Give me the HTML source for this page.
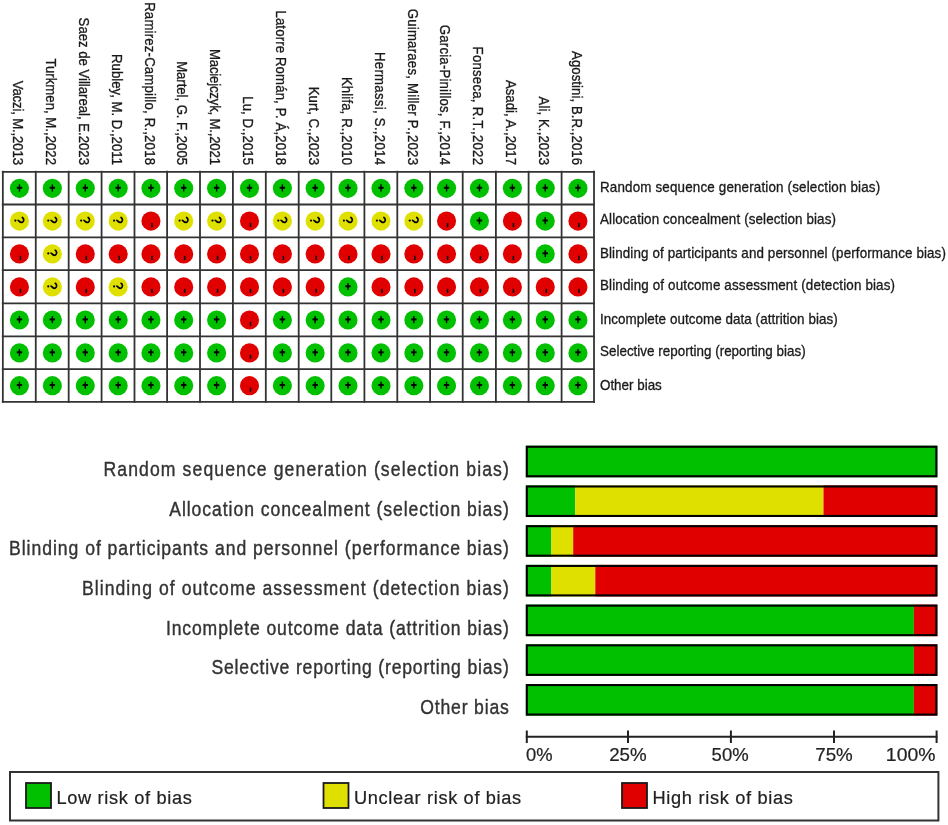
<!DOCTYPE html>
<html><head><meta charset="utf-8"><style>
html,body{margin:0;padding:0;background:#fff;}
body{width:948px;height:825px;overflow:hidden;}
svg{display:block;font-family:"Liberation Sans",sans-serif;filter:blur(0.5px);}
.hd{font-size:13.2px;fill:#1a1a1a;stroke:#1a1a1a;stroke-width:0.3px;}
.rl{font-size:13.4px;fill:#1a1a1a;stroke:#1a1a1a;stroke-width:0.3px;}
.bl{font-size:17.6px;fill:#333;stroke:#333;stroke-width:0.35px;}
.at{font-size:18.0px;fill:#222;stroke:#222;stroke-width:0.2px;}
.lt{font-size:18.2px;fill:#222;stroke:#222;stroke-width:0.22px;}
.gl{stroke:#333;stroke-width:1.8;}
.plus{stroke:#000;stroke-width:1.9;fill:none;}
.plusv{stroke:#000;stroke-width:1.35;fill:none;}
.minus{stroke:#111;stroke-width:1.6;fill:none;}
.qp{stroke:#000;stroke-width:1.7;fill:none;stroke-linecap:round;}
.bb{stroke:#000;stroke-width:2.1;}
.ax{stroke:#222;stroke-width:2;}
.lg{stroke:#333;stroke-width:2;}
.ls{stroke:#1a1a1a;stroke-width:1.8;}
</style></head><body>
<svg width="948" height="825" viewBox="0 0 948 825">
<text transform="translate(13.11 165) rotate(90) scale(1 1.1)" text-anchor="end" class="hd" textLength="84.28" lengthAdjust="spacing">Vaczi, M.,2013</text>
<text transform="translate(46.02 165) rotate(90) scale(1 1.1)" text-anchor="end" class="hd" textLength="106.57" lengthAdjust="spacing">Turkmen, M.,2022</text>
<text transform="translate(78.92 165) rotate(90) scale(1 1.1)" text-anchor="end" class="hd" textLength="147.40" lengthAdjust="spacing">Saez de Villareal, E.2023</text>
<text transform="translate(111.83 165) rotate(90) scale(1 1.1)" text-anchor="end" class="hd" textLength="110.97" lengthAdjust="spacing">Rubley, M. D.,2011</text>
<text transform="translate(144.60 165) rotate(90) scale(1 1.1)" text-anchor="end" class="hd" textLength="162.87" lengthAdjust="spacing">Ramirez-Campillo, R.,2018</text>
<text transform="translate(177.35 165) rotate(90) scale(1 1.1)" text-anchor="end" class="hd" textLength="103.86" lengthAdjust="spacing">Martel, G. F.,2005</text>
<text transform="translate(210.25 165) rotate(90) scale(1 1.1)" text-anchor="end" class="hd" textLength="116.00" lengthAdjust="spacing">Maciejczyk, M.,2021</text>
<text transform="translate(243.15 165) rotate(90) scale(1 1.1)" text-anchor="end" class="hd" textLength="68.72" lengthAdjust="spacing">Lu, D.,2015</text>
<text transform="translate(276.05 165) rotate(90) scale(1 1.1)" text-anchor="end" class="hd" textLength="154.57" lengthAdjust="spacing">Latorre Román, P. Á,2018</text>
<text transform="translate(308.80 165) rotate(90) scale(1 1.1)" text-anchor="end" class="hd" textLength="78.24" lengthAdjust="spacing">Kurt, C.,2023</text>
<text transform="translate(341.65 165) rotate(90) scale(1 1.1)" text-anchor="end" class="hd" textLength="88.04" lengthAdjust="spacing">Khlifa, R.,2010</text>
<text transform="translate(374.65 165) rotate(90) scale(1 1.1)" text-anchor="end" class="hd" textLength="113.02" lengthAdjust="spacing">Hermassi, S.,2014</text>
<text transform="translate(407.50 165) rotate(90) scale(1 1.1)" text-anchor="end" class="hd" textLength="156.32" lengthAdjust="spacing">Guimaraes, Miller P.,2023</text>
<text transform="translate(440.20 165) rotate(90) scale(1 1.1)" text-anchor="end" class="hd" textLength="140.15" lengthAdjust="spacing">Garcia-Pinillos, F.,2014</text>
<text transform="translate(473.10 165) rotate(90) scale(1 1.1)" text-anchor="end" class="hd" textLength="118.41" lengthAdjust="spacing">Fonseca, R.T.,2022</text>
<text transform="translate(506.05 165) rotate(90) scale(1 1.1)" text-anchor="end" class="hd" textLength="85.08" lengthAdjust="spacing">Asadi, A.,2017</text>
<text transform="translate(538.90 165) rotate(90) scale(1 1.1)" text-anchor="end" class="hd" textLength="68.48" lengthAdjust="spacing">Ali, K.,2023</text>
<text transform="translate(571.60 165) rotate(90) scale(1 1.1)" text-anchor="end" class="hd" textLength="113.94" lengthAdjust="spacing">Agostini, B.R.,2016</text>
<line x1="2.85" y1="170.80" x2="2.85" y2="402.80" class="gl"/>
<line x1="35.76" y1="170.80" x2="35.76" y2="402.80" class="gl"/>
<line x1="68.67" y1="170.80" x2="68.67" y2="402.80" class="gl"/>
<line x1="101.58" y1="170.80" x2="101.58" y2="402.80" class="gl"/>
<line x1="134.49" y1="170.80" x2="134.49" y2="402.80" class="gl"/>
<line x1="167.10" y1="170.80" x2="167.10" y2="402.80" class="gl"/>
<line x1="200.00" y1="170.80" x2="200.00" y2="402.80" class="gl"/>
<line x1="232.90" y1="170.80" x2="232.90" y2="402.80" class="gl"/>
<line x1="265.80" y1="170.80" x2="265.80" y2="402.80" class="gl"/>
<line x1="298.70" y1="170.80" x2="298.70" y2="402.80" class="gl"/>
<line x1="331.30" y1="170.80" x2="331.30" y2="402.80" class="gl"/>
<line x1="364.40" y1="170.80" x2="364.40" y2="402.80" class="gl"/>
<line x1="397.30" y1="170.80" x2="397.30" y2="402.80" class="gl"/>
<line x1="430.10" y1="170.80" x2="430.10" y2="402.80" class="gl"/>
<line x1="462.70" y1="170.80" x2="462.70" y2="402.80" class="gl"/>
<line x1="495.90" y1="170.80" x2="495.90" y2="402.80" class="gl"/>
<line x1="528.60" y1="170.80" x2="528.60" y2="402.80" class="gl"/>
<line x1="561.60" y1="170.80" x2="561.60" y2="402.80" class="gl"/>
<line x1="594.00" y1="170.80" x2="594.00" y2="402.80" class="gl"/>
<line x1="1.85" y1="171.80" x2="595.00" y2="171.80" class="gl"/>
<line x1="1.85" y1="204.50" x2="595.00" y2="204.50" class="gl"/>
<line x1="1.85" y1="237.30" x2="595.00" y2="237.30" class="gl"/>
<line x1="1.85" y1="270.10" x2="595.00" y2="270.10" class="gl"/>
<line x1="1.85" y1="303.30" x2="595.00" y2="303.30" class="gl"/>
<line x1="1.85" y1="336.30" x2="595.00" y2="336.30" class="gl"/>
<line x1="1.85" y1="369.10" x2="595.00" y2="369.10" class="gl"/>
<line x1="1.85" y1="401.80" x2="595.00" y2="401.80" class="gl"/>
<circle cx="19.45" cy="188.35" r="9.55" fill="#00C000"/>
<path d="M16.75 187.75h5.4" class="plus"/><path d="M19.45 184.35v7.2" class="plusv"/><path d="M17.75 187.75L19.45 185.95L21.15 187.75L19.45 189.55Z" fill="#000"/>
<circle cx="52.37" cy="188.35" r="9.55" fill="#00C000"/>
<path d="M49.66 187.75h5.4" class="plus"/><path d="M52.37 184.35v7.2" class="plusv"/><path d="M50.66 187.75L52.37 185.95L54.07 187.75L52.37 189.55Z" fill="#000"/>
<circle cx="85.28" cy="188.35" r="9.55" fill="#00C000"/>
<path d="M82.58 187.75h5.4" class="plus"/><path d="M85.28 184.35v7.2" class="plusv"/><path d="M83.58 187.75L85.28 185.95L86.98 187.75L85.28 189.55Z" fill="#000"/>
<circle cx="118.19" cy="188.35" r="9.55" fill="#00C000"/>
<path d="M115.48 187.75h5.4" class="plus"/><path d="M118.19 184.35v7.2" class="plusv"/><path d="M116.48 187.75L118.19 185.95L119.89 187.75L118.19 189.55Z" fill="#000"/>
<circle cx="150.95" cy="188.35" r="9.55" fill="#00C000"/>
<path d="M148.25 187.75h5.4" class="plus"/><path d="M150.95 184.35v7.2" class="plusv"/><path d="M149.25 187.75L150.95 185.95L152.65 187.75L150.95 189.55Z" fill="#000"/>
<circle cx="183.70" cy="188.35" r="9.55" fill="#00C000"/>
<path d="M181.00 187.75h5.4" class="plus"/><path d="M183.70 184.35v7.2" class="plusv"/><path d="M182.00 187.75L183.70 185.95L185.40 187.75L183.70 189.55Z" fill="#000"/>
<circle cx="216.60" cy="188.35" r="9.55" fill="#00C000"/>
<path d="M213.90 187.75h5.4" class="plus"/><path d="M216.60 184.35v7.2" class="plusv"/><path d="M214.90 187.75L216.60 185.95L218.30 187.75L216.60 189.55Z" fill="#000"/>
<circle cx="249.50" cy="188.35" r="9.55" fill="#00C000"/>
<path d="M246.80 187.75h5.4" class="plus"/><path d="M249.50 184.35v7.2" class="plusv"/><path d="M247.80 187.75L249.50 185.95L251.20 187.75L249.50 189.55Z" fill="#000"/>
<circle cx="282.40" cy="188.35" r="9.55" fill="#00C000"/>
<path d="M279.70 187.75h5.4" class="plus"/><path d="M282.40 184.35v7.2" class="plusv"/><path d="M280.70 187.75L282.40 185.95L284.10 187.75L282.40 189.55Z" fill="#000"/>
<circle cx="315.15" cy="188.35" r="9.55" fill="#00C000"/>
<path d="M312.45 187.75h5.4" class="plus"/><path d="M315.15 184.35v7.2" class="plusv"/><path d="M313.45 187.75L315.15 185.95L316.85 187.75L315.15 189.55Z" fill="#000"/>
<circle cx="348.00" cy="188.35" r="9.55" fill="#00C000"/>
<path d="M345.30 187.75h5.4" class="plus"/><path d="M348.00 184.35v7.2" class="plusv"/><path d="M346.30 187.75L348.00 185.95L349.70 187.75L348.00 189.55Z" fill="#000"/>
<circle cx="381.00" cy="188.35" r="9.55" fill="#00C000"/>
<path d="M378.30 187.75h5.4" class="plus"/><path d="M381.00 184.35v7.2" class="plusv"/><path d="M379.30 187.75L381.00 185.95L382.70 187.75L381.00 189.55Z" fill="#000"/>
<circle cx="413.85" cy="188.35" r="9.55" fill="#00C000"/>
<path d="M411.15 187.75h5.4" class="plus"/><path d="M413.85 184.35v7.2" class="plusv"/><path d="M412.15 187.75L413.85 185.95L415.55 187.75L413.85 189.55Z" fill="#000"/>
<circle cx="446.55" cy="188.35" r="9.55" fill="#00C000"/>
<path d="M443.85 187.75h5.4" class="plus"/><path d="M446.55 184.35v7.2" class="plusv"/><path d="M444.85 187.75L446.55 185.95L448.25 187.75L446.55 189.55Z" fill="#000"/>
<circle cx="479.45" cy="188.35" r="9.55" fill="#00C000"/>
<path d="M476.75 187.75h5.4" class="plus"/><path d="M479.45 184.35v7.2" class="plusv"/><path d="M477.75 187.75L479.45 185.95L481.15 187.75L479.45 189.55Z" fill="#000"/>
<circle cx="512.40" cy="188.35" r="9.55" fill="#00C000"/>
<path d="M509.70 187.75h5.4" class="plus"/><path d="M512.40 184.35v7.2" class="plusv"/><path d="M510.70 187.75L512.40 185.95L514.10 187.75L512.40 189.55Z" fill="#000"/>
<circle cx="545.25" cy="188.35" r="9.55" fill="#00C000"/>
<path d="M542.55 187.75h5.4" class="plus"/><path d="M545.25 184.35v7.2" class="plusv"/><path d="M543.55 187.75L545.25 185.95L546.95 187.75L545.25 189.55Z" fill="#000"/>
<circle cx="577.95" cy="188.35" r="9.55" fill="#00C000"/>
<path d="M575.25 187.75h5.4" class="plus"/><path d="M577.95 184.35v7.2" class="plusv"/><path d="M576.25 187.75L577.95 185.95L579.65 187.75L577.95 189.55Z" fill="#000"/>
<circle cx="19.45" cy="221.10" r="9.55" fill="#E0E000"/>
<g transform="translate(19.45 221.10)"><path d="M2.9 -3.6C4.6 -2.6 4.8 0.1 3.0 1.1C1.7 1.8 0.5 1.0 -0.3 0.0L-1.3 -0.8" class="qp"/><circle cx="-4.1" cy="-0.5" r="1.1" fill="#000"/></g>
<circle cx="52.37" cy="221.10" r="9.55" fill="#E0E000"/>
<g transform="translate(52.37 221.10)"><path d="M2.9 -3.6C4.6 -2.6 4.8 0.1 3.0 1.1C1.7 1.8 0.5 1.0 -0.3 0.0L-1.3 -0.8" class="qp"/><circle cx="-4.1" cy="-0.5" r="1.1" fill="#000"/></g>
<circle cx="85.28" cy="221.10" r="9.55" fill="#E0E000"/>
<g transform="translate(85.28 221.10)"><path d="M2.9 -3.6C4.6 -2.6 4.8 0.1 3.0 1.1C1.7 1.8 0.5 1.0 -0.3 0.0L-1.3 -0.8" class="qp"/><circle cx="-4.1" cy="-0.5" r="1.1" fill="#000"/></g>
<circle cx="118.19" cy="221.10" r="9.55" fill="#E0E000"/>
<g transform="translate(118.19 221.10)"><path d="M2.9 -3.6C4.6 -2.6 4.8 0.1 3.0 1.1C1.7 1.8 0.5 1.0 -0.3 0.0L-1.3 -0.8" class="qp"/><circle cx="-4.1" cy="-0.5" r="1.1" fill="#000"/></g>
<circle cx="150.95" cy="221.10" r="9.55" fill="#E00000"/>
<path d="M151.95 223.00v4.2" class="minus"/>
<circle cx="183.70" cy="221.10" r="9.55" fill="#E0E000"/>
<g transform="translate(183.70 221.10)"><path d="M2.9 -3.6C4.6 -2.6 4.8 0.1 3.0 1.1C1.7 1.8 0.5 1.0 -0.3 0.0L-1.3 -0.8" class="qp"/><circle cx="-4.1" cy="-0.5" r="1.1" fill="#000"/></g>
<circle cx="216.60" cy="221.10" r="9.55" fill="#E0E000"/>
<g transform="translate(216.60 221.10)"><path d="M2.9 -3.6C4.6 -2.6 4.8 0.1 3.0 1.1C1.7 1.8 0.5 1.0 -0.3 0.0L-1.3 -0.8" class="qp"/><circle cx="-4.1" cy="-0.5" r="1.1" fill="#000"/></g>
<circle cx="249.50" cy="221.10" r="9.55" fill="#E00000"/>
<path d="M250.50 223.00v4.2" class="minus"/>
<circle cx="282.40" cy="221.10" r="9.55" fill="#E0E000"/>
<g transform="translate(282.40 221.10)"><path d="M2.9 -3.6C4.6 -2.6 4.8 0.1 3.0 1.1C1.7 1.8 0.5 1.0 -0.3 0.0L-1.3 -0.8" class="qp"/><circle cx="-4.1" cy="-0.5" r="1.1" fill="#000"/></g>
<circle cx="315.15" cy="221.10" r="9.55" fill="#E0E000"/>
<g transform="translate(315.15 221.10)"><path d="M2.9 -3.6C4.6 -2.6 4.8 0.1 3.0 1.1C1.7 1.8 0.5 1.0 -0.3 0.0L-1.3 -0.8" class="qp"/><circle cx="-4.1" cy="-0.5" r="1.1" fill="#000"/></g>
<circle cx="348.00" cy="221.10" r="9.55" fill="#E0E000"/>
<g transform="translate(348.00 221.10)"><path d="M2.9 -3.6C4.6 -2.6 4.8 0.1 3.0 1.1C1.7 1.8 0.5 1.0 -0.3 0.0L-1.3 -0.8" class="qp"/><circle cx="-4.1" cy="-0.5" r="1.1" fill="#000"/></g>
<circle cx="381.00" cy="221.10" r="9.55" fill="#E0E000"/>
<g transform="translate(381.00 221.10)"><path d="M2.9 -3.6C4.6 -2.6 4.8 0.1 3.0 1.1C1.7 1.8 0.5 1.0 -0.3 0.0L-1.3 -0.8" class="qp"/><circle cx="-4.1" cy="-0.5" r="1.1" fill="#000"/></g>
<circle cx="413.85" cy="221.10" r="9.55" fill="#E0E000"/>
<g transform="translate(413.85 221.10)"><path d="M2.9 -3.6C4.6 -2.6 4.8 0.1 3.0 1.1C1.7 1.8 0.5 1.0 -0.3 0.0L-1.3 -0.8" class="qp"/><circle cx="-4.1" cy="-0.5" r="1.1" fill="#000"/></g>
<circle cx="446.55" cy="221.10" r="9.55" fill="#E00000"/>
<path d="M447.55 223.00v4.2" class="minus"/>
<circle cx="479.45" cy="221.10" r="9.55" fill="#00C000"/>
<path d="M476.75 220.50h5.4" class="plus"/><path d="M479.45 217.10v7.2" class="plusv"/><path d="M477.75 220.50L479.45 218.70L481.15 220.50L479.45 222.30Z" fill="#000"/>
<circle cx="512.40" cy="221.10" r="9.55" fill="#E00000"/>
<path d="M513.40 223.00v4.2" class="minus"/>
<circle cx="545.25" cy="221.10" r="9.55" fill="#00C000"/>
<path d="M542.55 220.50h5.4" class="plus"/><path d="M545.25 217.10v7.2" class="plusv"/><path d="M543.55 220.50L545.25 218.70L546.95 220.50L545.25 222.30Z" fill="#000"/>
<circle cx="577.95" cy="221.10" r="9.55" fill="#E00000"/>
<path d="M578.95 223.00v4.2" class="minus"/>
<circle cx="19.45" cy="253.90" r="9.55" fill="#E00000"/>
<path d="M20.45 255.80v4.2" class="minus"/>
<circle cx="52.37" cy="253.90" r="9.55" fill="#E0E000"/>
<g transform="translate(52.37 253.90)"><path d="M2.9 -3.6C4.6 -2.6 4.8 0.1 3.0 1.1C1.7 1.8 0.5 1.0 -0.3 0.0L-1.3 -0.8" class="qp"/><circle cx="-4.1" cy="-0.5" r="1.1" fill="#000"/></g>
<circle cx="85.28" cy="253.90" r="9.55" fill="#E00000"/>
<path d="M86.28 255.80v4.2" class="minus"/>
<circle cx="118.19" cy="253.90" r="9.55" fill="#E00000"/>
<path d="M119.19 255.80v4.2" class="minus"/>
<circle cx="150.95" cy="253.90" r="9.55" fill="#E00000"/>
<path d="M151.95 255.80v4.2" class="minus"/>
<circle cx="183.70" cy="253.90" r="9.55" fill="#E00000"/>
<path d="M184.70 255.80v4.2" class="minus"/>
<circle cx="216.60" cy="253.90" r="9.55" fill="#E00000"/>
<path d="M217.60 255.80v4.2" class="minus"/>
<circle cx="249.50" cy="253.90" r="9.55" fill="#E00000"/>
<path d="M250.50 255.80v4.2" class="minus"/>
<circle cx="282.40" cy="253.90" r="9.55" fill="#E00000"/>
<path d="M283.40 255.80v4.2" class="minus"/>
<circle cx="315.15" cy="253.90" r="9.55" fill="#E00000"/>
<path d="M316.15 255.80v4.2" class="minus"/>
<circle cx="348.00" cy="253.90" r="9.55" fill="#E00000"/>
<path d="M349.00 255.80v4.2" class="minus"/>
<circle cx="381.00" cy="253.90" r="9.55" fill="#E00000"/>
<path d="M382.00 255.80v4.2" class="minus"/>
<circle cx="413.85" cy="253.90" r="9.55" fill="#E00000"/>
<path d="M414.85 255.80v4.2" class="minus"/>
<circle cx="446.55" cy="253.90" r="9.55" fill="#E00000"/>
<path d="M447.55 255.80v4.2" class="minus"/>
<circle cx="479.45" cy="253.90" r="9.55" fill="#E00000"/>
<path d="M480.45 255.80v4.2" class="minus"/>
<circle cx="512.40" cy="253.90" r="9.55" fill="#E00000"/>
<path d="M513.40 255.80v4.2" class="minus"/>
<circle cx="545.25" cy="253.90" r="9.55" fill="#00C000"/>
<path d="M542.55 253.30h5.4" class="plus"/><path d="M545.25 249.90v7.2" class="plusv"/><path d="M543.55 253.30L545.25 251.50L546.95 253.30L545.25 255.10Z" fill="#000"/>
<circle cx="577.95" cy="253.90" r="9.55" fill="#E00000"/>
<path d="M578.95 255.80v4.2" class="minus"/>
<circle cx="19.45" cy="286.90" r="9.55" fill="#E00000"/>
<path d="M20.45 288.80v4.2" class="minus"/>
<circle cx="52.37" cy="286.90" r="9.55" fill="#E0E000"/>
<g transform="translate(52.37 286.90)"><path d="M2.9 -3.6C4.6 -2.6 4.8 0.1 3.0 1.1C1.7 1.8 0.5 1.0 -0.3 0.0L-1.3 -0.8" class="qp"/><circle cx="-4.1" cy="-0.5" r="1.1" fill="#000"/></g>
<circle cx="85.28" cy="286.90" r="9.55" fill="#E00000"/>
<path d="M86.28 288.80v4.2" class="minus"/>
<circle cx="118.19" cy="286.90" r="9.55" fill="#E0E000"/>
<g transform="translate(118.19 286.90)"><path d="M2.9 -3.6C4.6 -2.6 4.8 0.1 3.0 1.1C1.7 1.8 0.5 1.0 -0.3 0.0L-1.3 -0.8" class="qp"/><circle cx="-4.1" cy="-0.5" r="1.1" fill="#000"/></g>
<circle cx="150.95" cy="286.90" r="9.55" fill="#E00000"/>
<path d="M151.95 288.80v4.2" class="minus"/>
<circle cx="183.70" cy="286.90" r="9.55" fill="#E00000"/>
<path d="M184.70 288.80v4.2" class="minus"/>
<circle cx="216.60" cy="286.90" r="9.55" fill="#E00000"/>
<path d="M217.60 288.80v4.2" class="minus"/>
<circle cx="249.50" cy="286.90" r="9.55" fill="#E00000"/>
<path d="M250.50 288.80v4.2" class="minus"/>
<circle cx="282.40" cy="286.90" r="9.55" fill="#E00000"/>
<path d="M283.40 288.80v4.2" class="minus"/>
<circle cx="315.15" cy="286.90" r="9.55" fill="#E00000"/>
<path d="M316.15 288.80v4.2" class="minus"/>
<circle cx="348.00" cy="286.90" r="9.55" fill="#00C000"/>
<path d="M345.30 286.30h5.4" class="plus"/><path d="M348.00 282.90v7.2" class="plusv"/><path d="M346.30 286.30L348.00 284.50L349.70 286.30L348.00 288.10Z" fill="#000"/>
<circle cx="381.00" cy="286.90" r="9.55" fill="#E00000"/>
<path d="M382.00 288.80v4.2" class="minus"/>
<circle cx="413.85" cy="286.90" r="9.55" fill="#E00000"/>
<path d="M414.85 288.80v4.2" class="minus"/>
<circle cx="446.55" cy="286.90" r="9.55" fill="#E00000"/>
<path d="M447.55 288.80v4.2" class="minus"/>
<circle cx="479.45" cy="286.90" r="9.55" fill="#E00000"/>
<path d="M480.45 288.80v4.2" class="minus"/>
<circle cx="512.40" cy="286.90" r="9.55" fill="#E00000"/>
<path d="M513.40 288.80v4.2" class="minus"/>
<circle cx="545.25" cy="286.90" r="9.55" fill="#E00000"/>
<path d="M546.25 288.80v4.2" class="minus"/>
<circle cx="577.95" cy="286.90" r="9.55" fill="#E00000"/>
<path d="M578.95 288.80v4.2" class="minus"/>
<circle cx="19.45" cy="320.00" r="9.55" fill="#00C000"/>
<path d="M16.75 319.40h5.4" class="plus"/><path d="M19.45 316.00v7.2" class="plusv"/><path d="M17.75 319.40L19.45 317.60L21.15 319.40L19.45 321.20Z" fill="#000"/>
<circle cx="52.37" cy="320.00" r="9.55" fill="#00C000"/>
<path d="M49.66 319.40h5.4" class="plus"/><path d="M52.37 316.00v7.2" class="plusv"/><path d="M50.66 319.40L52.37 317.60L54.07 319.40L52.37 321.20Z" fill="#000"/>
<circle cx="85.28" cy="320.00" r="9.55" fill="#00C000"/>
<path d="M82.58 319.40h5.4" class="plus"/><path d="M85.28 316.00v7.2" class="plusv"/><path d="M83.58 319.40L85.28 317.60L86.98 319.40L85.28 321.20Z" fill="#000"/>
<circle cx="118.19" cy="320.00" r="9.55" fill="#00C000"/>
<path d="M115.48 319.40h5.4" class="plus"/><path d="M118.19 316.00v7.2" class="plusv"/><path d="M116.48 319.40L118.19 317.60L119.89 319.40L118.19 321.20Z" fill="#000"/>
<circle cx="150.95" cy="320.00" r="9.55" fill="#00C000"/>
<path d="M148.25 319.40h5.4" class="plus"/><path d="M150.95 316.00v7.2" class="plusv"/><path d="M149.25 319.40L150.95 317.60L152.65 319.40L150.95 321.20Z" fill="#000"/>
<circle cx="183.70" cy="320.00" r="9.55" fill="#00C000"/>
<path d="M181.00 319.40h5.4" class="plus"/><path d="M183.70 316.00v7.2" class="plusv"/><path d="M182.00 319.40L183.70 317.60L185.40 319.40L183.70 321.20Z" fill="#000"/>
<circle cx="216.60" cy="320.00" r="9.55" fill="#00C000"/>
<path d="M213.90 319.40h5.4" class="plus"/><path d="M216.60 316.00v7.2" class="plusv"/><path d="M214.90 319.40L216.60 317.60L218.30 319.40L216.60 321.20Z" fill="#000"/>
<circle cx="249.50" cy="320.00" r="9.55" fill="#E00000"/>
<path d="M250.50 321.90v4.2" class="minus"/>
<circle cx="282.40" cy="320.00" r="9.55" fill="#00C000"/>
<path d="M279.70 319.40h5.4" class="plus"/><path d="M282.40 316.00v7.2" class="plusv"/><path d="M280.70 319.40L282.40 317.60L284.10 319.40L282.40 321.20Z" fill="#000"/>
<circle cx="315.15" cy="320.00" r="9.55" fill="#00C000"/>
<path d="M312.45 319.40h5.4" class="plus"/><path d="M315.15 316.00v7.2" class="plusv"/><path d="M313.45 319.40L315.15 317.60L316.85 319.40L315.15 321.20Z" fill="#000"/>
<circle cx="348.00" cy="320.00" r="9.55" fill="#00C000"/>
<path d="M345.30 319.40h5.4" class="plus"/><path d="M348.00 316.00v7.2" class="plusv"/><path d="M346.30 319.40L348.00 317.60L349.70 319.40L348.00 321.20Z" fill="#000"/>
<circle cx="381.00" cy="320.00" r="9.55" fill="#00C000"/>
<path d="M378.30 319.40h5.4" class="plus"/><path d="M381.00 316.00v7.2" class="plusv"/><path d="M379.30 319.40L381.00 317.60L382.70 319.40L381.00 321.20Z" fill="#000"/>
<circle cx="413.85" cy="320.00" r="9.55" fill="#00C000"/>
<path d="M411.15 319.40h5.4" class="plus"/><path d="M413.85 316.00v7.2" class="plusv"/><path d="M412.15 319.40L413.85 317.60L415.55 319.40L413.85 321.20Z" fill="#000"/>
<circle cx="446.55" cy="320.00" r="9.55" fill="#00C000"/>
<path d="M443.85 319.40h5.4" class="plus"/><path d="M446.55 316.00v7.2" class="plusv"/><path d="M444.85 319.40L446.55 317.60L448.25 319.40L446.55 321.20Z" fill="#000"/>
<circle cx="479.45" cy="320.00" r="9.55" fill="#00C000"/>
<path d="M476.75 319.40h5.4" class="plus"/><path d="M479.45 316.00v7.2" class="plusv"/><path d="M477.75 319.40L479.45 317.60L481.15 319.40L479.45 321.20Z" fill="#000"/>
<circle cx="512.40" cy="320.00" r="9.55" fill="#00C000"/>
<path d="M509.70 319.40h5.4" class="plus"/><path d="M512.40 316.00v7.2" class="plusv"/><path d="M510.70 319.40L512.40 317.60L514.10 319.40L512.40 321.20Z" fill="#000"/>
<circle cx="545.25" cy="320.00" r="9.55" fill="#00C000"/>
<path d="M542.55 319.40h5.4" class="plus"/><path d="M545.25 316.00v7.2" class="plusv"/><path d="M543.55 319.40L545.25 317.60L546.95 319.40L545.25 321.20Z" fill="#000"/>
<circle cx="577.95" cy="320.00" r="9.55" fill="#00C000"/>
<path d="M575.25 319.40h5.4" class="plus"/><path d="M577.95 316.00v7.2" class="plusv"/><path d="M576.25 319.40L577.95 317.60L579.65 319.40L577.95 321.20Z" fill="#000"/>
<circle cx="19.45" cy="352.90" r="9.55" fill="#00C000"/>
<path d="M16.75 352.30h5.4" class="plus"/><path d="M19.45 348.90v7.2" class="plusv"/><path d="M17.75 352.30L19.45 350.50L21.15 352.30L19.45 354.10Z" fill="#000"/>
<circle cx="52.37" cy="352.90" r="9.55" fill="#00C000"/>
<path d="M49.66 352.30h5.4" class="plus"/><path d="M52.37 348.90v7.2" class="plusv"/><path d="M50.66 352.30L52.37 350.50L54.07 352.30L52.37 354.10Z" fill="#000"/>
<circle cx="85.28" cy="352.90" r="9.55" fill="#00C000"/>
<path d="M82.58 352.30h5.4" class="plus"/><path d="M85.28 348.90v7.2" class="plusv"/><path d="M83.58 352.30L85.28 350.50L86.98 352.30L85.28 354.10Z" fill="#000"/>
<circle cx="118.19" cy="352.90" r="9.55" fill="#00C000"/>
<path d="M115.48 352.30h5.4" class="plus"/><path d="M118.19 348.90v7.2" class="plusv"/><path d="M116.48 352.30L118.19 350.50L119.89 352.30L118.19 354.10Z" fill="#000"/>
<circle cx="150.95" cy="352.90" r="9.55" fill="#00C000"/>
<path d="M148.25 352.30h5.4" class="plus"/><path d="M150.95 348.90v7.2" class="plusv"/><path d="M149.25 352.30L150.95 350.50L152.65 352.30L150.95 354.10Z" fill="#000"/>
<circle cx="183.70" cy="352.90" r="9.55" fill="#00C000"/>
<path d="M181.00 352.30h5.4" class="plus"/><path d="M183.70 348.90v7.2" class="plusv"/><path d="M182.00 352.30L183.70 350.50L185.40 352.30L183.70 354.10Z" fill="#000"/>
<circle cx="216.60" cy="352.90" r="9.55" fill="#00C000"/>
<path d="M213.90 352.30h5.4" class="plus"/><path d="M216.60 348.90v7.2" class="plusv"/><path d="M214.90 352.30L216.60 350.50L218.30 352.30L216.60 354.10Z" fill="#000"/>
<circle cx="249.50" cy="352.90" r="9.55" fill="#E00000"/>
<path d="M250.50 354.80v4.2" class="minus"/>
<circle cx="282.40" cy="352.90" r="9.55" fill="#00C000"/>
<path d="M279.70 352.30h5.4" class="plus"/><path d="M282.40 348.90v7.2" class="plusv"/><path d="M280.70 352.30L282.40 350.50L284.10 352.30L282.40 354.10Z" fill="#000"/>
<circle cx="315.15" cy="352.90" r="9.55" fill="#00C000"/>
<path d="M312.45 352.30h5.4" class="plus"/><path d="M315.15 348.90v7.2" class="plusv"/><path d="M313.45 352.30L315.15 350.50L316.85 352.30L315.15 354.10Z" fill="#000"/>
<circle cx="348.00" cy="352.90" r="9.55" fill="#00C000"/>
<path d="M345.30 352.30h5.4" class="plus"/><path d="M348.00 348.90v7.2" class="plusv"/><path d="M346.30 352.30L348.00 350.50L349.70 352.30L348.00 354.10Z" fill="#000"/>
<circle cx="381.00" cy="352.90" r="9.55" fill="#00C000"/>
<path d="M378.30 352.30h5.4" class="plus"/><path d="M381.00 348.90v7.2" class="plusv"/><path d="M379.30 352.30L381.00 350.50L382.70 352.30L381.00 354.10Z" fill="#000"/>
<circle cx="413.85" cy="352.90" r="9.55" fill="#00C000"/>
<path d="M411.15 352.30h5.4" class="plus"/><path d="M413.85 348.90v7.2" class="plusv"/><path d="M412.15 352.30L413.85 350.50L415.55 352.30L413.85 354.10Z" fill="#000"/>
<circle cx="446.55" cy="352.90" r="9.55" fill="#00C000"/>
<path d="M443.85 352.30h5.4" class="plus"/><path d="M446.55 348.90v7.2" class="plusv"/><path d="M444.85 352.30L446.55 350.50L448.25 352.30L446.55 354.10Z" fill="#000"/>
<circle cx="479.45" cy="352.90" r="9.55" fill="#00C000"/>
<path d="M476.75 352.30h5.4" class="plus"/><path d="M479.45 348.90v7.2" class="plusv"/><path d="M477.75 352.30L479.45 350.50L481.15 352.30L479.45 354.10Z" fill="#000"/>
<circle cx="512.40" cy="352.90" r="9.55" fill="#00C000"/>
<path d="M509.70 352.30h5.4" class="plus"/><path d="M512.40 348.90v7.2" class="plusv"/><path d="M510.70 352.30L512.40 350.50L514.10 352.30L512.40 354.10Z" fill="#000"/>
<circle cx="545.25" cy="352.90" r="9.55" fill="#00C000"/>
<path d="M542.55 352.30h5.4" class="plus"/><path d="M545.25 348.90v7.2" class="plusv"/><path d="M543.55 352.30L545.25 350.50L546.95 352.30L545.25 354.10Z" fill="#000"/>
<circle cx="577.95" cy="352.90" r="9.55" fill="#00C000"/>
<path d="M575.25 352.30h5.4" class="plus"/><path d="M577.95 348.90v7.2" class="plusv"/><path d="M576.25 352.30L577.95 350.50L579.65 352.30L577.95 354.10Z" fill="#000"/>
<circle cx="19.45" cy="385.65" r="9.55" fill="#00C000"/>
<path d="M16.75 385.05h5.4" class="plus"/><path d="M19.45 381.65v7.2" class="plusv"/><path d="M17.75 385.05L19.45 383.25L21.15 385.05L19.45 386.85Z" fill="#000"/>
<circle cx="52.37" cy="385.65" r="9.55" fill="#00C000"/>
<path d="M49.66 385.05h5.4" class="plus"/><path d="M52.37 381.65v7.2" class="plusv"/><path d="M50.66 385.05L52.37 383.25L54.07 385.05L52.37 386.85Z" fill="#000"/>
<circle cx="85.28" cy="385.65" r="9.55" fill="#00C000"/>
<path d="M82.58 385.05h5.4" class="plus"/><path d="M85.28 381.65v7.2" class="plusv"/><path d="M83.58 385.05L85.28 383.25L86.98 385.05L85.28 386.85Z" fill="#000"/>
<circle cx="118.19" cy="385.65" r="9.55" fill="#00C000"/>
<path d="M115.48 385.05h5.4" class="plus"/><path d="M118.19 381.65v7.2" class="plusv"/><path d="M116.48 385.05L118.19 383.25L119.89 385.05L118.19 386.85Z" fill="#000"/>
<circle cx="150.95" cy="385.65" r="9.55" fill="#00C000"/>
<path d="M148.25 385.05h5.4" class="plus"/><path d="M150.95 381.65v7.2" class="plusv"/><path d="M149.25 385.05L150.95 383.25L152.65 385.05L150.95 386.85Z" fill="#000"/>
<circle cx="183.70" cy="385.65" r="9.55" fill="#00C000"/>
<path d="M181.00 385.05h5.4" class="plus"/><path d="M183.70 381.65v7.2" class="plusv"/><path d="M182.00 385.05L183.70 383.25L185.40 385.05L183.70 386.85Z" fill="#000"/>
<circle cx="216.60" cy="385.65" r="9.55" fill="#00C000"/>
<path d="M213.90 385.05h5.4" class="plus"/><path d="M216.60 381.65v7.2" class="plusv"/><path d="M214.90 385.05L216.60 383.25L218.30 385.05L216.60 386.85Z" fill="#000"/>
<circle cx="249.50" cy="385.65" r="9.55" fill="#E00000"/>
<path d="M250.50 387.55v4.2" class="minus"/>
<circle cx="282.40" cy="385.65" r="9.55" fill="#00C000"/>
<path d="M279.70 385.05h5.4" class="plus"/><path d="M282.40 381.65v7.2" class="plusv"/><path d="M280.70 385.05L282.40 383.25L284.10 385.05L282.40 386.85Z" fill="#000"/>
<circle cx="315.15" cy="385.65" r="9.55" fill="#00C000"/>
<path d="M312.45 385.05h5.4" class="plus"/><path d="M315.15 381.65v7.2" class="plusv"/><path d="M313.45 385.05L315.15 383.25L316.85 385.05L315.15 386.85Z" fill="#000"/>
<circle cx="348.00" cy="385.65" r="9.55" fill="#00C000"/>
<path d="M345.30 385.05h5.4" class="plus"/><path d="M348.00 381.65v7.2" class="plusv"/><path d="M346.30 385.05L348.00 383.25L349.70 385.05L348.00 386.85Z" fill="#000"/>
<circle cx="381.00" cy="385.65" r="9.55" fill="#00C000"/>
<path d="M378.30 385.05h5.4" class="plus"/><path d="M381.00 381.65v7.2" class="plusv"/><path d="M379.30 385.05L381.00 383.25L382.70 385.05L381.00 386.85Z" fill="#000"/>
<circle cx="413.85" cy="385.65" r="9.55" fill="#00C000"/>
<path d="M411.15 385.05h5.4" class="plus"/><path d="M413.85 381.65v7.2" class="plusv"/><path d="M412.15 385.05L413.85 383.25L415.55 385.05L413.85 386.85Z" fill="#000"/>
<circle cx="446.55" cy="385.65" r="9.55" fill="#00C000"/>
<path d="M443.85 385.05h5.4" class="plus"/><path d="M446.55 381.65v7.2" class="plusv"/><path d="M444.85 385.05L446.55 383.25L448.25 385.05L446.55 386.85Z" fill="#000"/>
<circle cx="479.45" cy="385.65" r="9.55" fill="#00C000"/>
<path d="M476.75 385.05h5.4" class="plus"/><path d="M479.45 381.65v7.2" class="plusv"/><path d="M477.75 385.05L479.45 383.25L481.15 385.05L479.45 386.85Z" fill="#000"/>
<circle cx="512.40" cy="385.65" r="9.55" fill="#00C000"/>
<path d="M509.70 385.05h5.4" class="plus"/><path d="M512.40 381.65v7.2" class="plusv"/><path d="M510.70 385.05L512.40 383.25L514.10 385.05L512.40 386.85Z" fill="#000"/>
<circle cx="545.25" cy="385.65" r="9.55" fill="#00C000"/>
<path d="M542.55 385.05h5.4" class="plus"/><path d="M545.25 381.65v7.2" class="plusv"/><path d="M543.55 385.05L545.25 383.25L546.95 385.05L545.25 386.85Z" fill="#000"/>
<circle cx="577.95" cy="385.65" r="9.55" fill="#00C000"/>
<path d="M575.25 385.05h5.4" class="plus"/><path d="M577.95 381.65v7.2" class="plusv"/><path d="M576.25 385.05L577.95 383.25L579.65 385.05L577.95 386.85Z" fill="#000"/>
<text transform="translate(600 192.10) scale(1 1.06)" class="rl" textLength="280.17" lengthAdjust="spacing">Random sequence generation (selection bias)</text>
<text transform="translate(600 224.40) scale(1 1.06)" class="rl" textLength="235.97" lengthAdjust="spacing">Allocation concealment (selection bias)</text>
<text transform="translate(600 257.60) scale(1 1.06)" class="rl" textLength="345.90" lengthAdjust="spacing">Blinding of participants and personnel (performance bias)</text>
<text transform="translate(600 290.30) scale(1 1.06)" class="rl" textLength="295.03" lengthAdjust="spacing">Blinding of outcome assessment (detection bias)</text>
<text transform="translate(600 323.60) scale(1 1.06)" class="rl" textLength="237.69" lengthAdjust="spacing">Incomplete outcome data (attrition bias)</text>
<text transform="translate(600 356.10) scale(1 1.06)" class="rl" textLength="205.66" lengthAdjust="spacing">Selective reporting (reporting bias)</text>
<text transform="translate(600 389.50) scale(1 1.06)" class="rl" textLength="61.78" lengthAdjust="spacing">Other bias</text>
<rect x="525.80" y="445.70" width="411.60" height="31.60" fill="#00C000"/>
<rect x="526.85" y="446.75" width="409.50" height="29.50" fill="none" class="bb"/>
<text transform="translate(508.8 475.80) scale(1 1.15)" text-anchor="end" class="bl" textLength="405.32" lengthAdjust="spacing">Random sequence generation (selection bias)</text>
<rect x="525.80" y="485.42" width="49.30" height="31.60" fill="#00C000"/>
<rect x="575.10" y="485.42" width="248.40" height="31.60" fill="#E0E000"/>
<rect x="823.50" y="485.42" width="113.90" height="31.60" fill="#E00000"/>
<rect x="526.85" y="486.47" width="409.50" height="29.50" fill="none" class="bb"/>
<text transform="translate(508.8 515.52) scale(1 1.15)" text-anchor="end" class="bl" textLength="339.54" lengthAdjust="spacing">Allocation concealment (selection bias)</text>
<rect x="525.80" y="525.14" width="25.60" height="31.60" fill="#00C000"/>
<rect x="551.40" y="525.14" width="21.80" height="31.60" fill="#E0E000"/>
<rect x="573.20" y="525.14" width="364.20" height="31.60" fill="#E00000"/>
<rect x="526.85" y="526.19" width="409.50" height="29.50" fill="none" class="bb"/>
<text transform="translate(508.8 555.24) scale(1 1.15)" text-anchor="end" class="bl" textLength="499.82" lengthAdjust="spacing">Blinding of participants and personnel (performance bias)</text>
<rect x="525.80" y="564.86" width="25.60" height="31.60" fill="#00C000"/>
<rect x="551.40" y="564.86" width="43.90" height="31.60" fill="#E0E000"/>
<rect x="595.30" y="564.86" width="342.10" height="31.60" fill="#E00000"/>
<rect x="526.85" y="565.91" width="409.50" height="29.50" fill="none" class="bb"/>
<text transform="translate(508.8 594.96) scale(1 1.15)" text-anchor="end" class="bl" textLength="426.85" lengthAdjust="spacing">Blinding of outcome assessment (detection bias)</text>
<rect x="525.80" y="604.58" width="388.10" height="31.60" fill="#00C000"/>
<rect x="913.90" y="604.58" width="23.50" height="31.60" fill="#E00000"/>
<rect x="526.85" y="605.63" width="409.50" height="29.50" fill="none" class="bb"/>
<text transform="translate(508.8 634.68) scale(1 1.15)" text-anchor="end" class="bl" textLength="342.93" lengthAdjust="spacing">Incomplete outcome data (attrition bias)</text>
<rect x="525.80" y="644.30" width="388.10" height="31.60" fill="#00C000"/>
<rect x="913.90" y="644.30" width="23.50" height="31.60" fill="#E00000"/>
<rect x="526.85" y="645.35" width="409.50" height="29.50" fill="none" class="bb"/>
<text transform="translate(508.8 674.40) scale(1 1.15)" text-anchor="end" class="bl" textLength="297.34" lengthAdjust="spacing">Selective reporting (reporting bias)</text>
<rect x="525.80" y="684.02" width="388.10" height="31.60" fill="#00C000"/>
<rect x="913.90" y="684.02" width="23.50" height="31.60" fill="#E00000"/>
<rect x="526.85" y="685.07" width="409.50" height="29.50" fill="none" class="bb"/>
<text transform="translate(508.8 714.12) scale(1 1.15)" text-anchor="end" class="bl" textLength="88.64" lengthAdjust="spacing">Other bias</text>
<line x1="525.80" y1="736.8" x2="937.40" y2="736.8" class="ax"/>
<line x1="526.80" y1="730.5" x2="526.80" y2="743" class="ax"/>
<line x1="628.00" y1="730.5" x2="628.00" y2="743" class="ax"/>
<line x1="730.90" y1="730.5" x2="730.90" y2="743" class="ax"/>
<line x1="834.00" y1="730.5" x2="834.00" y2="743" class="ax"/>
<line x1="936.60" y1="730.5" x2="936.60" y2="743" class="ax"/>
<text transform="translate(526.00 761) scale(1 1.0)" text-anchor="start" class="at" textLength="26.52" lengthAdjust="spacingAndGlyphs">0%</text>
<text transform="translate(627.90 761) scale(1 1.0)" text-anchor="middle" class="at" textLength="37.53" lengthAdjust="spacingAndGlyphs">25%</text>
<text transform="translate(730.10 761) scale(1 1.0)" text-anchor="middle" class="at" textLength="37.03" lengthAdjust="spacingAndGlyphs">50%</text>
<text transform="translate(834.00 761) scale(1 1.0)" text-anchor="middle" class="at" textLength="37.53" lengthAdjust="spacingAndGlyphs">75%</text>
<text transform="translate(935.40 761) scale(1 1.0)" text-anchor="end" class="at" textLength="49.55" lengthAdjust="spacingAndGlyphs">100%</text>
<rect x="10" y="772" width="928.4" height="48.5" fill="none" class="lg"/>
<rect x="26" y="783" width="25" height="25" fill="#00C000" class="ls"/>
<text transform="translate(56.5 803.5) scale(1 1.05)" class="lt" textLength="135.34" lengthAdjust="spacing">Low risk of bias</text>
<rect x="323.5" y="783" width="25" height="25" fill="#E0E000" class="ls"/>
<text transform="translate(354.0 803.5) scale(1 1.05)" class="lt" textLength="167.16" lengthAdjust="spacing">Unclear risk of bias</text>
<rect x="622" y="783" width="25" height="25" fill="#E00000" class="ls"/>
<text transform="translate(652.5 803.5) scale(1 1.05)" class="lt" textLength="140.39" lengthAdjust="spacing">High risk of bias</text>
</svg>
</body></html>
